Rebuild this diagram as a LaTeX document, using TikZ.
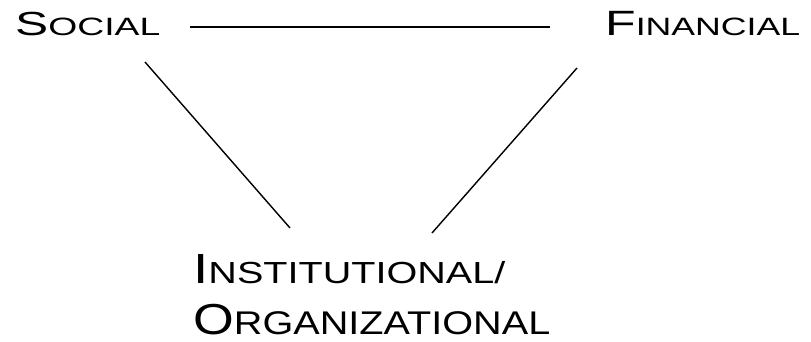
\documentclass[tikz,border=0pt]{standalone}
\usepackage{fontspec}
\setmainfont{Liberation Sans}
\usetikzlibrary{positioning}
% #1 width, #2/#3 sizes, #4 capital, #5 rest
\newcommand{\capword}[5]{\resizebox{#1}{\height}{{\fontsize{#2}{#2}\selectfont #4}{\fontsize{#3}{#3}\selectfont #5}}}

\begin{document}
\begin{tikzpicture}[x=0.03cm,y=-0.03cm]
\useasboundingbox (0,0) rectangle (811,342);
\begin{scope}[every node/.style={anchor=base west,inner sep=0pt}]
    \node (S) at (15,36) {\capword{4.35cm}{28.5}{21.4}{S}{OCIAL}};
    \node (F) at (605,36) {\capword{5.85cm}{30}{21.4}{F}{INANCIAL}};
    \node (I) at (193,283) {\capword{9.36cm}{36}{26}{I}{NSTITUTIONAL/}};
    \node (O) at (193,334) {\capword{10.71cm}{37}{28}{O}{RGANIZATIONAL}};
\end{scope}

\begin{scope}[every edge/.style={draw=black,line width=1.2pt}]
    \path [-] ([shift={(175,-9)}]S.base west) edge ([shift={(-55,-9)}]F.base west);
    \path [-] ([shift={(130,26)}]S.base west) edge ([shift={(97,-55)}]I.base west);
    \path [-] ([shift={(-28,32)}]F.base west) edge ([shift={(239,-50)}]I.base west);
\end{scope}
\end{tikzpicture}
\end{document}
